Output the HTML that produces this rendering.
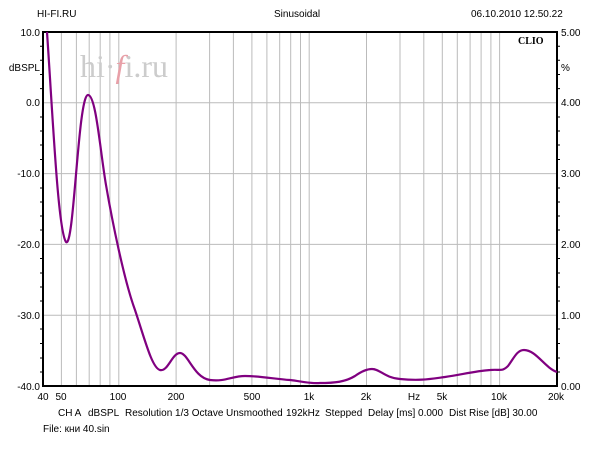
<!DOCTYPE html>
<html><head><style>
body{margin:0;width:600px;height:450px;background:#fff;overflow:hidden}
svg text{font-family:"Liberation Sans",sans-serif;font-size:10px;fill:#000}
</style></head><body>
<svg width="600" height="450" viewBox="0 0 600 450">
<g stroke="#bbb" stroke-width="1">
<line x1="61.4" y1="32" x2="61.4" y2="386"/>
<line x1="76.4" y1="32" x2="76.4" y2="386"/>
<line x1="89.2" y1="32" x2="89.2" y2="386"/>
<line x1="100.2" y1="32" x2="100.2" y2="386"/>
<line x1="109.9" y1="32" x2="109.9" y2="386"/>
<line x1="118.8" y1="32" x2="118.8" y2="386"/>
<line x1="176.1" y1="32" x2="176.1" y2="386"/>
<line x1="209.6" y1="32" x2="209.6" y2="386"/>
<line x1="233.4" y1="32" x2="233.4" y2="386"/>
<line x1="251.9" y1="32" x2="251.9" y2="386"/>
<line x1="266.9" y1="32" x2="266.9" y2="386"/>
<line x1="279.7" y1="32" x2="279.7" y2="386"/>
<line x1="290.7" y1="32" x2="290.7" y2="386"/>
<line x1="300.5" y1="32" x2="300.5" y2="386"/>
<line x1="309.2" y1="32" x2="309.2" y2="386"/>
<line x1="366.5" y1="32" x2="366.5" y2="386"/>
<line x1="400.0" y1="32" x2="400.0" y2="386"/>
<line x1="423.8" y1="32" x2="423.8" y2="386"/>
<line x1="442.3" y1="32" x2="442.3" y2="386"/>
<line x1="457.3" y1="32" x2="457.3" y2="386"/>
<line x1="470.1" y1="32" x2="470.1" y2="386"/>
<line x1="481.1" y1="32" x2="481.1" y2="386"/>
<line x1="490.9" y1="32" x2="490.9" y2="386"/>
<line x1="499.6" y1="32" x2="499.6" y2="386"/>
<line x1="43" y1="102.8" x2="557" y2="102.8"/>
<line x1="43" y1="173.6" x2="557" y2="173.6"/>
<line x1="43" y1="244.4" x2="557" y2="244.4"/>
<line x1="43" y1="315.2" x2="557" y2="315.2"/>
</g>
<g stroke="#000" stroke-width="1">
<path d="M43 46.2h-3M43 60.3h-3M43 74.5h-3M43 88.6h-3M43 117h-3M43 131h-3M43 145h-3M43 159.5h-3M43 188h-3M43 202h-3M43 216h-3M43 230h-3M43 258.5h-3M43 273h-3M43 287h-3M43 301h-3M43 329h-3M43 343.5h-3M43 358h-3M43 372h-3"/>
<path d="M557 46.2h3M557 60.3h3M557 74.5h3M557 88.6h3M557 117h3M557 131h3M557 145h3M557 159.5h3M557 188h3M557 202h3M557 216h3M557 230h3M557 258.5h3M557 273h3M557 287h3M557 301h3M557 329h3M557 343.5h3M557 358h3M557 372h3"/>
</g>
<rect x="43" y="32" width="514" height="354" fill="none" stroke="#000" stroke-width="2"/>
<text x="80" y="77" style="font-family:'Liberation Serif',serif;font-size:32px;fill:#ccc">hi·<tspan style="fill:#e8a0a8;font-style:italic">f</tspan>i.ru</text>
<path d="M47,32 C53,120 58,230 66,242 C74,250 78,95 88,95 C96,95 100,150 106,185 C112,220 124,280 135,310 C145,340 152,368 160,370 C168,372 172,353 180,353 C188,353 194,378 210,380 C225,382 232,376 245,376 C260,376 275,379 290,380 C300,381 310,384 320,383 C335,383 345,382 355,376 C362,371 367,369 372,369 C380,369 385,378 400,379 C420,381 430,379 445,377 C460,375 475,371 490,370 C500,369 502,372 508,366 C514,358 517,350 524,350 C536,350 545,368 557,372" fill="none" stroke="#800080" stroke-width="2.2"/>
<text x="37" y="17">HI-FI.RU</text>
<text x="274" y="17">Sinusoidal</text>
<text x="471" y="17">06.10.2010 12.50.22</text>
<text x="518" y="44" style="font-family:'Liberation Serif',serif;font-weight:bold;font-size:10px">CLIO</text>
<g text-anchor="end">
<text x="40" y="36">10.0</text><text x="40" y="71">dBSPL</text>
<text x="40" y="106">0.0</text><text x="40" y="177">-10.0</text>
<text x="40" y="248">-20.0</text><text x="40" y="319">-30.0</text><text x="40" y="390">-40.0</text>
</g>
<text x="561" y="36">5.00</text><text x="561" y="71">%</text>
<text x="561" y="106">4.00</text><text x="561" y="177">3.00</text>
<text x="561" y="248">2.00</text><text x="561" y="319">1.00</text><text x="561" y="390">0.00</text>
<g text-anchor="middle">
<text x="43" y="400">40</text><text x="61" y="400">50</text><text x="118" y="400">100</text>
<text x="176" y="400">200</text><text x="252" y="400">500</text><text x="309" y="400">1k</text>
<text x="366" y="400">2k</text><text x="414" y="400">Hz</text><text x="442" y="400">5k</text>
<text x="499" y="400">10k</text><text x="556" y="400">20k</text>
</g>
<text x="58" y="416">CH A</text>
<text x="88" y="416">dBSPL</text>
<text x="125" y="416">Resolution 1/3 Octave</text>
<text x="226" y="416">Unsmoothed</text>
<text x="286" y="416">192kHz</text>
<text x="325" y="416">Stepped</text>
<text x="368" y="416">Delay [ms] 0.000</text>
<text x="449" y="416">Dist Rise [dB] 30.00</text>
<text x="43" y="432">File: кни 40.sin</text>
</svg>
</body></html>
